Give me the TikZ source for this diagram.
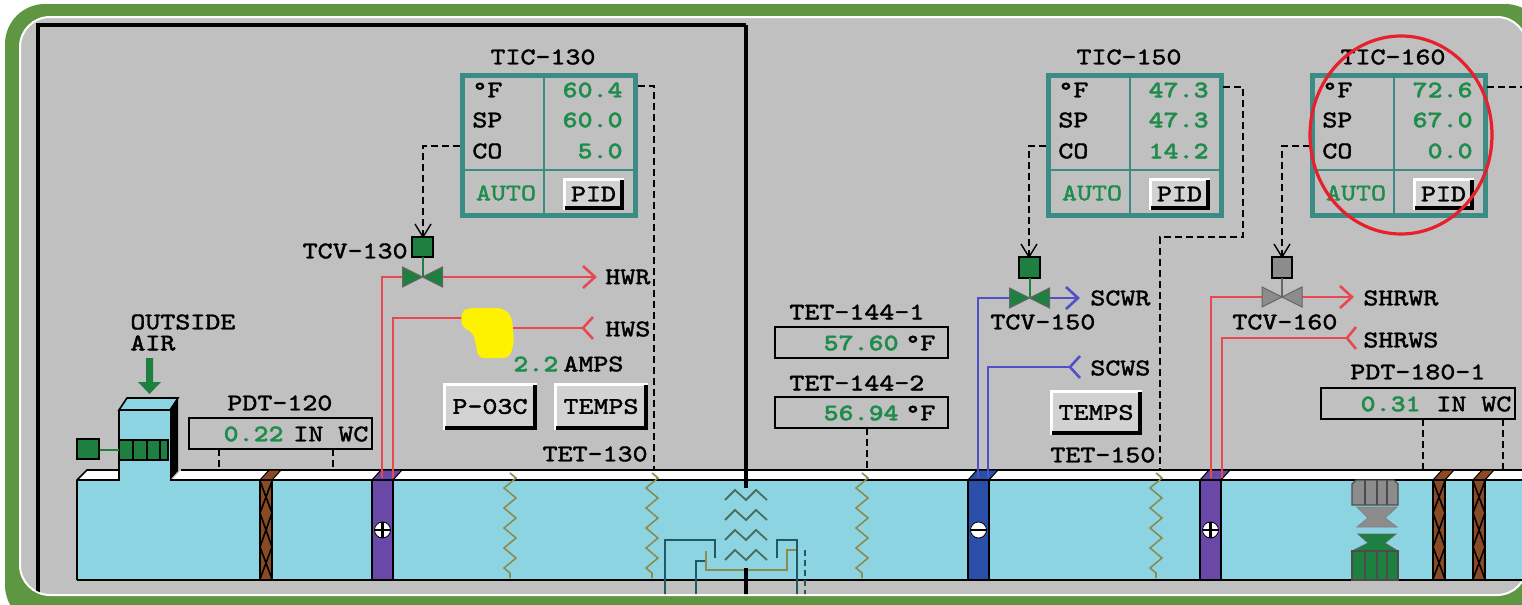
\documentclass[tikz,border=0pt]{standalone}
\usepackage{fontspec}
\usetikzlibrary{decorations.pathmorphing}
\newfontfamily\hmi[Extension=.otf,FakeStretch=1.2,FakeBold=1.8]{lmmono10-regular}
\newfontfamily\hmib[Extension=.otf,FakeStretch=1.2,FakeBold=1.6]{lmmonolt10-bold}
\definecolor{bggray}{HTML}{C0C0C0}
\definecolor{frgreen}{HTML}{5F9641}
\definecolor{pteal}{HTML}{3C8C86}
\definecolor{valgreen}{HTML}{1E8C4B}
\definecolor{vgreen}{HTML}{1E8040}
\definecolor{ductblue}{HTML}{8CD4E2}
\definecolor{pipered}{HTML}{E84850}
\definecolor{pipeblue}{HTML}{5050C8}
\definecolor{coilpurple}{HTML}{6A48A8}
\definecolor{coilblue}{HTML}{2A4FA8}
\definecolor{fbrown}{HTML}{8A4A24}
\definecolor{sensorc}{HTML}{8C8C50}
\definecolor{coilteal}{HTML}{1E5A64}
\definecolor{btnface}{HTML}{D2D2D2}
\definecolor{pumpyellow}{HTML}{FFF200}
\definecolor{fangray}{HTML}{8C8C8C}
\definecolor{markred}{HTML}{E8202C}
\tikzset{
  lbl/.style={font=\hmi\fontsize{11.9}{14}\selectfont,inner sep=0pt,text=black},
  val/.style={font=\hmib\fontsize{11.9}{14}\selectfont,inner sep=0pt,text=valgreen},
  sig/.style={draw=black,line width=1pt,dash pattern=on 3.5pt off 2pt},
  sigtip/.style={draw=black,line width=0.7pt},
  redpipe/.style={draw=pipered,line width=1.3pt},
  bluepipe/.style={draw=pipeblue,line width=1.3pt},
  sensor/.style={draw=sensorc,line width=0.8pt,decorate,decoration={zigzag,segment length=10pt,amplitude=3pt}},
  ductline/.style={draw=black,line width=0.8pt},
  readbox/.style={draw=black,line width=0.8pt,fill=bggray},
}
% button
\newcommand\hmibtn[6]{%
  \fill[btnface] (#2,#3) rectangle (#4,#5);
  \draw[white,line width=1.5pt] (#2+1.5,#5) -- (#2+1.5,#3+1.5) -- (#4,#3+1.5);
  \draw[black,line width=1.8pt] (#2+2,#5-1.8) -- (#4-1.8,#5-1.8) -- (#4-1.8,#3+2);
  \node[lbl] (#1) at ({(#2+#4)/2},{(#3+#5)/2}) {#6};}
% controller panel
\newcommand\hmipanel[6]{%
  \node[lbl] (#1t) at (#2+83,57) {#3};
  \fill[bggray] (#2,73) rectangle (#2+178,218);
  \draw[pteal,line width=0.8pt] (#2+84,73) -- (#2+84,218) (#2,170) -- (#2+178,170);
  \draw[pteal,line width=2.5pt] (#2+2.5,75.5) rectangle (#2+175.5,215.5);
  \node[lbl,anchor=west] (#1f) at (#2+12,90) {°F};
  \node[lbl,anchor=west] (#1s) at (#2+12,120) {SP};
  \node[lbl,anchor=west] (#1c) at (#2+12,151) {CO};
  \node[val,anchor=east] (#1v) at (#2+163,90) {#4};
  \node[val,anchor=east] (#1w) at (#2+163,120) {#5};
  \node[val,anchor=east] (#1x) at (#2+163,151) {#6};
  \node[lbl,text=valgreen] (#1a) at (#2+46,193) {AUTO};
  \hmibtn{#1p}{#2+103}{178}{#2+164}{210}{PID}}
% valve bowtie
\newcommand\hmivalve[3]{%
  \filldraw[fill=#3,draw=black!60,line width=0.5pt] (#1-20,#2-10) -- (#1,#2) -- (#1-20,#2+10) -- cycle;
  \filldraw[fill=#3,draw=black!60,line width=0.5pt] (#1+20,#2-10) -- (#1,#2) -- (#1+20,#2+10) -- cycle;}
% filter
\newcommand\hmifilter[1]{%
  \filldraw[fill=fbrown,draw=black,line width=0.5pt] (#1,480) -- (#1+9,470) -- (#1+21,470) -- (#1+12,480) -- cycle;
  \filldraw[fill=fbrown,draw=black,line width=0.8pt] (#1,480) rectangle (#1+12,580);
  \draw[black,line width=0.8pt] (#1,481) -- (#1+12,513) -- (#1,547) -- (#1+12,579)
     (#1+12,481) -- (#1,513) -- (#1+12,547) -- (#1,579);}
% coil
\newcommand\hmicoil[3]{%
  \filldraw[fill=#2,draw=black,line width=0.5pt] (#1,480) -- (#1+9,470) -- (#1+30,470) -- (#1+21,480) -- cycle;
  \filldraw[fill=#2,draw=black,line width=0.8pt] (#1,480) rectangle (#1+21,580);
  \filldraw[fill=white,draw=black,line width=0.4pt] (#1+10.5,530) circle[radius=8];
  \draw[black,line width=1.1pt] (#1+2.5,530) -- (#1+18.5,530);
  #3}
\begin{document}
\begin{tikzpicture}[x=0.5pt,y=-0.5pt]
\useasboundingbox (0,0) rectangle (1522,605);
\fill[white] (0,0) rectangle (1522,605);
\fill[frgreen,rounded corners=20pt] (5,4) rectangle (1545,625);
\fill[bggray,rounded corners=15pt] (20,17) rectangle (1527,595);
\draw[white,line width=1pt,rounded corners=15pt] (20,17) rectangle (1527,595);
\begin{scope}
\clip[rounded corners=15pt] (20,17) rectangle (1527,594);
% black frame
\draw[black,line width=2pt] (38,596) -- (38,25) -- (746,25);
% ---------------- duct
\fill[ductblue] (77,480) rectangle (1540,580);
\fill[ductblue] (119,410) rectangle (170,480);
\filldraw[fill=ductblue,draw=black,line width=0.8pt] (119,410) -- (127,398) -- (178,398) -- (170,410) -- cycle;
\fill[black] (170,410) -- (178,398) -- (178,471) -- (170,480) -- cycle;
\fill[white] (77,480) -- (87,470) -- (119,470) -- (119,480) -- cycle;
\fill[white] (172,480) -- (181,470) -- (1540,470) -- (1540,480) -- cycle;
\draw[ductline] (77,580) -- (77,480) -- (87,470) -- (119,470);
\draw[ductline] (77,480) -- (119,480) -- (119,410);
\draw[ductline] (181,470) -- (1540,470) (170,480) -- (1540,480) (77,580) -- (1540,580);
% intake damper + actuator
\filldraw[fill=vgreen,draw=black,line width=0.8pt] (119,440) rectangle (168,460);
\draw[black,line width=0.8pt] (133,440) -- (133,460) (147,440) -- (147,460) (160,440) -- (160,460);
\draw[vgreen,line width=1pt] (99,450) -- (119,450);
\filldraw[fill=vgreen,draw=black,line width=0.6pt] (77,439) rectangle (99,459);
% outside air arrow
\fill[vgreen] (146,358) -- (153,358) -- (153,382) -- (161,382) -- (149.5,394) -- (138,382) -- (146,382) -- cycle;
\node[lbl,anchor=west] (oa1) at (130,322) {OUTSIDE};
\node[lbl,anchor=west] (oa2) at (130,343) {AIR};
% PDT-120
\node[lbl,anchor=west] (pdt120t) at (227,403) {PDT-120};
\draw[readbox] (189,418) rectangle (372,449);
\node[val,anchor=east] (pdt120v) at (284,434) {0.22};
\node[lbl,anchor=west] (pdt120u) at (293,434) {IN WC};
\draw[sig] (219,449) -- (219,470) (333,449) -- (333,470);
% filters
\hmifilter{260}
\hmifilter{1433}
\hmifilter{1473}
% coils
\hmicoil{372}{coilpurple}{\draw[black,line width=1.1pt] (382.5,522) -- (382.5,538);}
\hmicoil{968}{coilblue}{}
\hmicoil{1200}{coilpurple}{\draw[black,line width=1.1pt] (1210.5,522) -- (1210.5,538);}
% sensors in duct
\draw[sensor] (510,473) -- (510,578);
\draw[sensor] (652,473) -- (652,578);
\draw[sensor] (862,473) -- (862,578);
\draw[sensor] (1156,473) -- (1156,578);
% coil element bottom centre
\foreach \yy in {495,515,535,555}{
  \draw[coilteal!60!sensorc,line width=0.9pt] (725,\yy+5) -- (735,\yy-5) -- (746,\yy+5) -- (756,\yy-5) -- (767,\yy+5);}
\draw[coilteal,line width=1.3pt] (665,596) -- (665,540) -- (715,540) -- (715,558);
\draw[coilteal,line width=1.3pt] (696,596) -- (696,561) -- (706,561);
\draw[sensorc,line width=0.9pt] (706,551) -- (706,570) -- (787,570) -- (787,550) -- (797,550);
\draw[coilteal,line width=1.3pt] (777,558) -- (777,540) -- (797,540) -- (797,596);
\draw[coilteal,line width=1.1pt,dash pattern=on 3pt off 2pt] (805,550) -- (805,596);
\draw[black,line width=2pt] (746,25) -- (746,488) (746,568) -- (746,596);
% fan
\filldraw[fill=fangray,draw=black!70,line width=0.6pt] (1352,484) -- (1356,480) -- (1394,480) -- (1398,484) -- (1398,505) -- (1352,505) -- cycle;
\draw[black!70,line width=0.6pt] (1365,480) -- (1365,505) (1377,480) -- (1377,505) (1387,480) -- (1387,505);
\filldraw[fill=fangray,draw=black!50,line width=0.4pt] (1357,507) -- (1397,507) -- (1385,518) -- (1397,527) -- (1357,527) -- (1368,518) -- cycle;
\filldraw[fill=vgreen,draw=black!60,line width=0.4pt] (1358,534) -- (1396,534) -- (1385,543) -- (1398,551) -- (1352,551) -- (1368,543) -- cycle;
\filldraw[fill=vgreen,draw=black!70,line width=0.6pt] (1352,551) rectangle (1398,580);
\draw[black!70,line width=0.6pt] (1365,551) -- (1365,580) (1377,551) -- (1377,580) (1387,551) -- (1387,580);
% ---------------- TIC-130 group
\hmipanel{tic130}{460}{TIC-130}{60.4}{60.0}{5.0}
\draw[sig] (460,146) -- (423,146) -- (423,236);
\draw[sigtip] (415,224) -- (423,237) -- (431,224);
\draw[sig] (638,86) -- (654,86) -- (654,470);
\filldraw[fill=vgreen,draw=black,line width=0.6pt] (412,237) rectangle (433,257);
\draw[vgreen,line width=1pt] (422.5,257) -- (422.5,277);
\node[lbl,anchor=east] (tcv130) at (408,251) {TCV-130};
\draw[redpipe] (382,478) -- (382,277) -- (595,277);
\draw[redpipe] (583,266) -- (595,277) -- (583,288);
\hmivalve{422.5}{277}{vgreen}
\node[lbl,anchor=west] (hwr) at (605,277) {HWR};
\draw[redpipe] (393,478) -- (393,318) -- (463,318);
\draw[redpipe] (512,328) -- (583,328);
\draw[redpipe] (593,317) -- (583,328) -- (593,339);
\node[lbl,anchor=west] (hws) at (605,329) {HWS};
\fill[pumpyellow,rounded corners=3pt] (461,312) -- (468,308) -- (503,308) -- (512,317) -- (514,344) -- (509,358) -- (478,358) -- (476,344) -- (472,331) -- (462,328) -- cycle;
\node[val,anchor=west] (amps) at (513,364) {2.2};
\node[lbl,anchor=west] (ampsu) at (563,364) {AMPS};
\hmibtn{p03c}{443}{383}{537}{430}{P-03C}
\hmibtn{temps130}{554}{383}{648}{430}{TEMPS}
\node[lbl,anchor=east] (tet130) at (648,454) {TET-130};
% ---------------- TET-144
\node[lbl,anchor=west] (tet1441) at (789,312) {TET-144-1};
\draw[readbox] (775,327) rectangle (948,358);
\node[val,anchor=east] (tet1441v) at (899,343) {57.60};
\node[lbl,anchor=west] (tet1441u) at (905,343) {°F};
\node[lbl,anchor=west] (tet1442) at (789,383) {TET-144-2};
\draw[readbox] (775,397) rectangle (948,428);
\node[val,anchor=east] (tet1442v) at (899,413) {56.94};
\node[lbl,anchor=west] (tet1442u) at (905,413) {°F};
\draw[sig] (867,428) -- (867,470);
% ---------------- TIC-150 group
\hmipanel{tic150}{1046}{TIC-150}{47.3}{47.3}{14.2}
\draw[sig] (1046,146) -- (1029,146) -- (1029,256);
\draw[sigtip] (1021,244) -- (1029,257) -- (1037,244);
\draw[sig] (1223,87) -- (1243,87) -- (1243,237) -- (1160,237) -- (1160,470);
\filldraw[fill=vgreen,draw=black,line width=0.6pt] (1019,257) rectangle (1040,278);
\draw[vgreen,line width=1pt] (1029.5,278) -- (1029.5,298);
\draw[bluepipe] (978,478) -- (978,298) -- (1078,298);
\draw[bluepipe] (1066,287) -- (1078,298) -- (1066,309);
\hmivalve{1029.5}{298}{vgreen}
\node[lbl,anchor=west] (scwr) at (1090,298) {SCWR};
\node[lbl,anchor=west] (tcv150) at (990,322) {TCV-150};
\draw[bluepipe] (988,478) -- (988,367) -- (1070,367);
\draw[bluepipe] (1080,356) -- (1070,367) -- (1080,378);
\node[lbl,anchor=west] (scws) at (1090,368) {SCWS};
\hmibtn{temps150}{1050}{390}{1142}{435}{TEMPS}
\node[lbl,anchor=west] (tet150) at (1050,455) {TET-150};
% ---------------- TIC-160 group
\hmipanel{tic160}{1310}{TIC-160}{72.6}{67.0}{0.0}
\draw[sig] (1310,146) -- (1282,146) -- (1282,256);
\draw[sigtip] (1274,244) -- (1282,257) -- (1290,244);
\draw[sig] (1487,87) -- (1530,87);
\filldraw[fill=fangray,draw=black,line width=0.6pt] (1272,257) rectangle (1292,278);
\draw[black!60,line width=1pt] (1282,278) -- (1282,297);
\draw[redpipe] (1211,478) -- (1211,297) -- (1352,297);
\draw[redpipe] (1340,286) -- (1352,297) -- (1340,308);
\hmivalve{1282}{297}{fangray}
\node[lbl,anchor=west] (shrwr) at (1363,298) {SHRWR};
\node[lbl,anchor=west] (tcv160) at (1232,322) {TCV-160};
\draw[redpipe] (1222,478) -- (1222,338) -- (1347,338);
\draw[redpipe] (1356,327) -- (1347,338) -- (1356,349);
\node[lbl,anchor=west] (shrws) at (1363,340) {SHRWS};
\node[lbl,anchor=west] (pdt180t) at (1350,372) {PDT-180-1};
\draw[readbox] (1321,388) rectangle (1515,419);
\node[val,anchor=east] (pdt180v) at (1421,404) {0.31};
\node[lbl,anchor=west] (pdt180u) at (1436,404) {IN WC};
\draw[sig] (1423,419) -- (1423,470) (1503,419) -- (1503,470);
% red highlight circle
\draw[markred,line width=1.6pt] (1401,135) ellipse[x radius=91,y radius=99];
\end{scope}
\end{tikzpicture}
\end{document}
